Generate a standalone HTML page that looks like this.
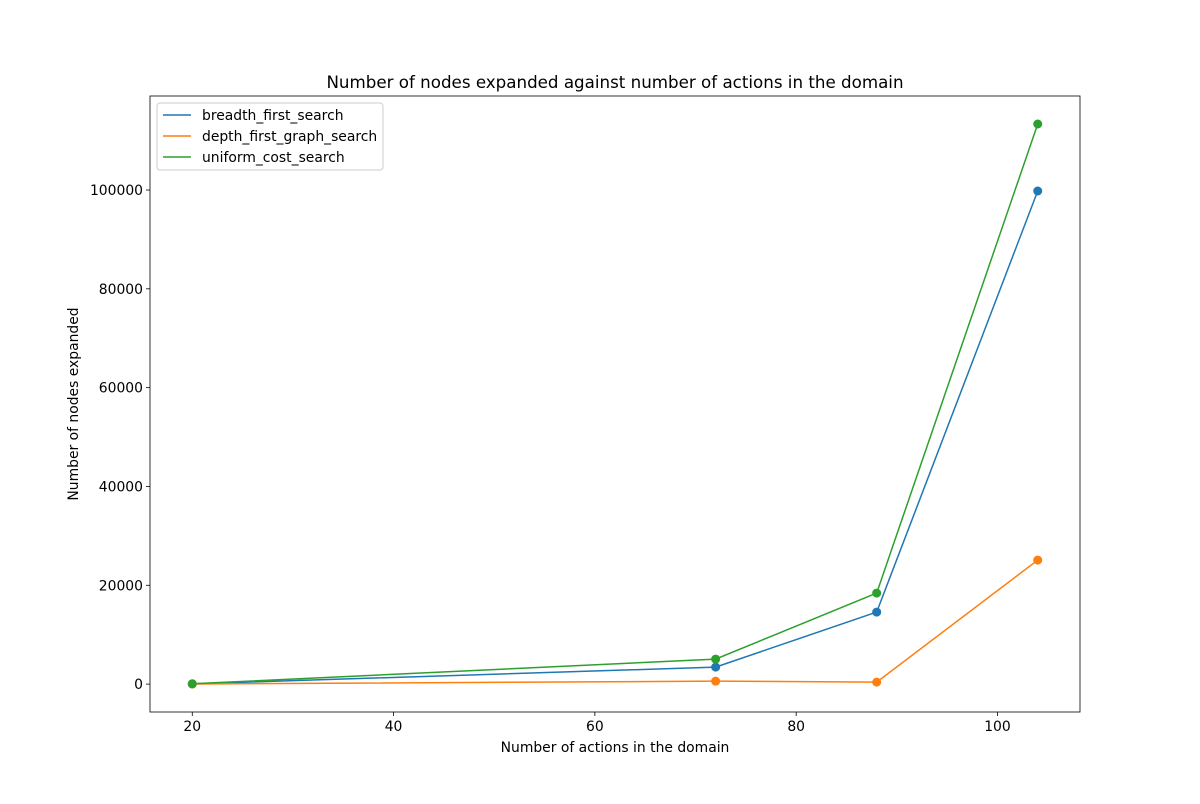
<!DOCTYPE html>
<html><head><meta charset="utf-8"><style>
body{margin:0;background:#fff;font-family:"DejaVu Sans","Liberation Sans",sans-serif}
</style></head><body>
<svg id="chart" width="1200" height="800" xmlns="http://www.w3.org/2000/svg" font-family="DejaVu Sans, Liberation Sans, sans-serif"></svg>
<script>
const xValues = [20, 72, 88, 104];
const bfsValues = [43, 3441, 14575, 99800];
const dfsValues = [21, 600, 400, 25100];
const ucsValues = [60, 5060, 18420, 113360];
const xTicks = [20, 40, 60, 80, 100];
const yTicks = [0, 20000, 40000, 60000, 80000, 100000];
const seriesNames = ["breadth_first_search", "depth_first_graph_search", "uniform_cost_search"];

const svg = document.getElementById('chart');
const NS = 'http://www.w3.org/2000/svg';
const L = 150, R = 1080, T = 96, B = 712;
const FS = 13.9;
const all = bfsValues.concat(dfsValues, ucsValues);
const xmin0 = Math.min(...xValues), xmax0 = Math.max(...xValues);
const ymin0 = Math.min(...all), ymax0 = Math.max(...all);
const xm = (xmax0 - xmin0) * 0.05, ym = (ymax0 - ymin0) * 0.05;
const xmin = xmin0 - xm, xmax = xmax0 + xm, ymin = ymin0 - ym, ymax = ymax0 + ym;
const xs = v => L + (v - xmin) / (xmax - xmin) * (R - L);
const ys = v => B - (v - ymin) / (ymax - ymin) * (B - T);
function el(tag, attrs, parent) {
  const e = document.createElementNS(NS, tag);
  for (const k in attrs) e.setAttribute(k, attrs[k]);
  (parent || svg).appendChild(e);
  return e;
}
function txt(s, attrs) { const t = el('text', attrs); t.textContent = s; return t; }

const t1 = txt('Number of nodes expanded against number of actions in the domain', {x:615, y:88, 'font-size':16.7, 'text-anchor':'middle'});



xTicks.forEach(v => {
  const g = el('g', {});
  
  
  el('line', {x1:xs(v), x2:xs(v), y1:B, y2:B+4, stroke:'#000', 'stroke-width':0.8}, g);
  const t = el('text', {x:xs(v), y:B+19, 'font-size':FS, 'text-anchor':'middle'}, g); t.textContent = v;
});
yTicks.forEach(v => {
  const g = el('g', {});
  
  
  el('line', {x1:L-4, x2:L, y1:ys(v), y2:ys(v), stroke:'#000', 'stroke-width':0.8}, g);
  const t = el('text', {x:L-7, y:ys(v)+5, 'font-size':FS, 'text-anchor':'end'}, g); t.textContent = v;
});
const xt = txt('Number of actions in the domain', {x:615, y:752, 'font-size':FS, 'text-anchor':'middle'});


const yt = txt('Number of nodes expanded', {x:0, y:0, 'font-size':FS, 'text-anchor':'middle', transform:'translate(78,404) rotate(-90)'});



const colors = ['#1f77b4', '#ff7f0e', '#2ca02c'];
[bfsValues, dfsValues, ucsValues].forEach((vals, i) => {
  const g = el('g', {});
  
  
  el('polyline', {points: vals.map((v, j) => xs(xValues[j]) + ',' + ys(v)).join(' '), fill:'none', stroke:colors[i], 'stroke-width':1.5}, g);
  vals.forEach((v, j) => {
    const c = el('circle', {cx:xs(xValues[j]), cy:ys(v), r:4.5, fill:colors[i]}, g);
    
    
  });
});

const frame = el('rect', {x:L, y:T, width:R-L, height:B-T, fill:'none', stroke:'#000', 'stroke-width':0.8});



const lg = el('g', {});


el('rect', {x:157, y:103, width:226, height:67, rx:3, fill:'#fff', 'fill-opacity':0.8, stroke:'#ccc'}, lg);
seriesNames.forEach((n, i) => {
  const y = 115 + i * 21;
  const e = el('g', {}, lg);
  
  
  el('line', {x1:163, x2:191, y1:y, y2:y, stroke:colors[i], 'stroke-width':1.5}, e);
  const t = el('text', {x:202, y:y+5, 'font-size':FS}, e); t.textContent = n;
});
</script>
</body></html>
